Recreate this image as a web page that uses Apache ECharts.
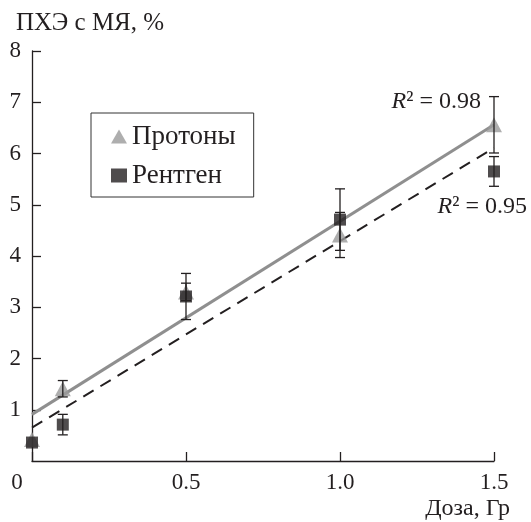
<!DOCTYPE html>
<html>
<head>
<meta charset="utf-8">
<script src="https://cdn.jsdelivr.net/npm/echarts@6/dist/echarts.min.js"></script>
<style>
  html, body { margin: 0; padding: 0; background: #fff; }
  #chart { width: 531px; height: 522px; }
</style>
</head>
<body>
<div id="chart"></div>
<script>
// дозы, Гр
const doses = [0, 0.1, 0.5, 1.0, 1.5]
// ПХЭ с МЯ, %
const protons = [0.42, 1.41, 3.3, 4.41, 6.56]
const protonsErr = [0, 0.16, 0.17, 0.44, 0.55]
const xray = [0.36, 0.71, 3.21, 4.71, 5.65]
const xrayErr = [0, 0.2, 0.45, 0.6, 0.29]
// линии тренда (концы)
const fitX = [0, 1.5]
const fitProtons = [0.91, 6.56]
const fitXray = [0.65, 6.11]
const xTicks = ['0', '0.5', '1.0', '1.5']

const FONT = "'Liberation Serif', 'Times New Roman', serif"
const INK = '#231f20'
const GRAY = '#9a9a9a'

const chart = echarts.init(document.getElementById('chart'))

const pairs = (xs, ys) => xs.map((x, i) => [x, ys[i]])
const withErr = (ys, es) => doses.map((x, i) => [x, ys[i], es[i]])
const serif = (size, extra) => Object.assign({ fontFamily: FONT, fontSize: size, color: INK }, extra || {})

// усы погрешностей
const errRender = (params, api) => {
  const x = api.value(0)
  const y = api.value(1)
  const e = api.value(2)
  if (!e) return null
  const top = api.coord([x, y + e])
  const bot = api.coord([x, y - e])
  const w = 5
  const st = { stroke: INK, lineWidth: 1.3 }
  return {
    type: 'group',
    children: [
      { type: 'line', shape: { x1: top[0], y1: top[1], x2: bot[0], y2: bot[1] }, style: st },
      { type: 'line', shape: { x1: top[0] - w, y1: top[1], x2: top[0] + w, y2: top[1] }, style: st },
      { type: 'line', shape: { x1: bot[0] - w, y1: bot[1], x2: bot[0] + w, y2: bot[1] }, style: st }
    ]
  }
}

const option = {
  animation: false,
  backgroundColor: '#fff',
  textStyle: { fontFamily: FONT },
  title: {
    text: '{t|ПХЭ с МЯ, %}',
    left: 11,
    top: 6,
    textStyle: serif(25, { fontWeight: 'normal', rich: { t: serif(25) } })
  },
  legend: {
    orient: 'vertical',
    left: 91,
    top: 113,
    padding: [10, 18, 8, 20],
    itemGap: 12,
    itemWidth: 16,
    itemHeight: 14,
    borderColor: '#333',
    borderWidth: 1,
    formatter: '{l|{name}}',
    textStyle: serif(27, { rich: { l: serif(27) } }),
    data: [
      { name: 'Протоны', icon: 'triangle' },
      { name: 'Рентген', icon: 'rect' }
    ]
  },
  grid: { left: 32, right: 37, top: 51, bottom: 61, containLabel: false },
  xAxis: {
    type: 'value',
    min: 0,
    max: 1.5,
    interval: 0.5,
    name: 'Доза, Гр',
    nameLocation: 'end',
    nameGap: 16,
    nameTextStyle: serif(24, { align: 'right', verticalAlign: 'top', padding: [36, 0, 0, 0] }),
    axisLine: { lineStyle: { color: INK, width: 1.3 } },
    axisTick: { inside: true, length: 9, lineStyle: { color: INK, width: 1.3 } },
    splitLine: { show: false },
    axisLabel: {
      margin: 10,
      fontFamily: FONT,
      fontSize: 23,
      color: INK,
      formatter: (v) => {
        const i = Math.round(v / 0.5)
        return i === 0 ? '{o|' + xTicks[0] + '}' : '{x|' + xTicks[i] + '}'
      },
      rich: { o: serif(23, { padding: [0, 30, 0, 0] }), x: serif(23) }
    }
  },
  yAxis: {
    type: 'value',
    min: 0,
    max: 8,
    interval: 1,
    axisLine: { lineStyle: { color: INK, width: 1.3 } },
    axisTick: { inside: true, length: 9, lineStyle: { color: INK, width: 1.3 } },
    splitLine: { show: false },
    axisLabel: {
      showMinLabel: false,
      margin: 11,
      fontFamily: FONT,
      fontSize: 23,
      color: INK,
      formatter: (v) => '{y|' + v + '}',
      rich: { y: serif(23) }
    }
  },
  graphic: [
    {
      type: 'text',
      x: 481,
      y: 102,
      style: {
        text: '{r|R}{n|² = 0.98}',
        align: 'right',
        verticalAlign: 'middle',
        rich: {
          r: { fontFamily: FONT, fontStyle: 'italic', fontSize: 24, fill: INK },
          n: { fontFamily: FONT, fontSize: 24, fill: INK }
        }
      }
    },
    {
      type: 'text',
      x: 527,
      y: 207,
      style: {
        text: '{r|R}{n|² = 0.95}',
        align: 'right',
        verticalAlign: 'middle',
        rich: {
          r: { fontFamily: FONT, fontStyle: 'italic', fontSize: 24, fill: INK },
          n: { fontFamily: FONT, fontSize: 24, fill: INK }
        }
      }
    }
  ],
  series: [
    {
      name: 'trendP',
      type: 'line',
      data: pairs(fitX, fitProtons),
      symbol: 'none',
      lineStyle: { color: '#8f8f8f', width: 3 },
      z: 1
    },
    {
      name: 'trendX',
      type: 'line',
      data: pairs(fitX, fitXray),
      symbol: 'none',
      lineStyle: { color: INK, width: 2, type: [12, 8] },
      z: 1
    },
    {
      name: 'Протоны',
      type: 'scatter',
      symbol: 'triangle',
      symbolSize: [16, 15],
      itemStyle: { color: GRAY },
      data: pairs(doses, protons),
      z: 2
    },
    {
      name: 'Рентген',
      type: 'scatter',
      symbol: 'rect',
      symbolSize: 12,
      itemStyle: { color: INK },
      data: pairs(doses, xray),
      z: 3
    },
    {
      name: 'errP',
      type: 'custom',
      renderItem: errRender,
      data: withErr(protons, protonsErr),
      z: 4
    },
    {
      name: 'errX',
      type: 'custom',
      renderItem: errRender,
      data: withErr(xray, xrayErr),
      z: 4
    }
  ]
}

chart.setOption(option)
</script>
</body>
</html>
